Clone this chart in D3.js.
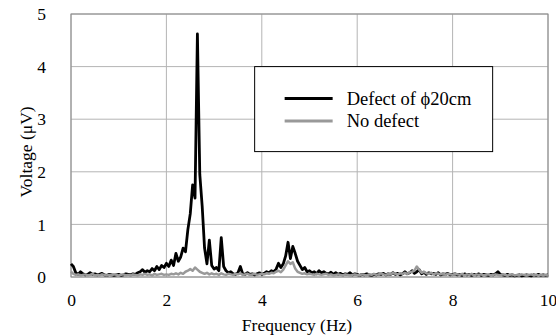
<!DOCTYPE html>
<html>
<head>
<meta charset="utf-8">
<script src="https://cdn.jsdelivr.net/npm/d3@7"></script>
<style>
  body { margin: 0; background: white; }
</style>
</head>
<body>
<div id="chart"></div>
<script>
// sampling step of the spectrum (Hz)
var df = 0.05;

// Defect of phi20cm, one row per Hz (0.00 .. 0.95, 1.00 .. 1.95, ...)
var defect = [
  0.25,0.20,0.08,0.05,0.10,0.06,0.04,0.05,0.08,0.05,0.06,0.04,0.05,0.07,0.04,0.03,0.05,0.04,0.03,0.04,
  0.05,0.03,0.04,0.06,0.05,0.04,0.06,0.05,0.08,0.10,0.14,0.09,0.12,0.10,0.16,0.12,0.20,0.14,0.22,0.18,
  0.26,0.20,0.32,0.22,0.45,0.30,0.38,0.55,0.48,0.90,1.20,1.75,1.50,4.62,1.95,1.35,0.55,0.25,0.70,0.22,
  0.15,0.18,0.12,0.75,0.20,0.12,0.08,0.10,0.06,0.05,0.08,0.20,0.06,0.05,0.08,0.05,0.06,0.04,0.06,0.08,
  0.05,0.07,0.10,0.08,0.12,0.10,0.15,0.26,0.18,0.25,0.40,0.66,0.35,0.58,0.45,0.30,0.22,0.14,0.18,0.10,
  0.12,0.08,0.10,0.06,0.12,0.08,0.10,0.07,0.06,0.09,0.05,0.08,0.05,0.07,0.04,0.06,0.05,0.08,0.04,0.06,
  0.05,0.03,0.05,0.04,0.06,0.04,0.03,0.05,0.04,0.06,0.05,0.07,0.04,0.06,0.05,0.08,0.05,0.07,0.04,0.06,
  0.10,0.06,0.08,0.12,0.07,0.10,0.14,0.06,0.09,0.05,0.08,0.06,0.07,0.05,0.08,0.04,0.06,0.05,0.07,0.04,
  0.05,0.06,0.04,0.05,0.03,0.06,0.04,0.05,0.03,0.05,0.04,0.06,0.03,0.05,0.04,0.03,0.05,0.04,0.06,0.10,
  0.05,0.04,0.03,0.05,0.03,0.04,0.02,0.03,0.04,0.02,0.03,0.04,0.03,0.02,0.04,0.03,0.05,0.03,0.04,0.03,
  0.04
];

// No defect
var noDefect = [
  0.10,0.06,0.04,0.05,0.03,0.04,0.05,0.03,0.04,0.06,0.03,0.04,0.03,0.05,0.04,0.03,0.04,0.03,0.05,0.04,
  0.03,0.04,0.05,0.03,0.04,0.03,0.05,0.04,0.03,0.05,0.04,0.06,0.04,0.05,0.03,0.06,0.04,0.05,0.06,0.04,
  0.05,0.04,0.06,0.05,0.07,0.05,0.08,0.06,0.10,0.12,0.15,0.12,0.18,0.14,0.10,0.08,0.06,0.08,0.05,0.07,
  0.05,0.06,0.04,0.07,0.05,0.04,0.06,0.05,0.04,0.06,0.05,0.07,0.04,0.05,0.06,0.04,0.05,0.06,0.04,0.05,
  0.06,0.05,0.07,0.06,0.08,0.07,0.10,0.12,0.09,0.14,0.22,0.30,0.25,0.28,0.16,0.10,0.08,0.06,0.07,0.05,
  0.06,0.05,0.04,0.06,0.05,0.04,0.05,0.06,0.04,0.05,0.03,0.04,0.05,0.04,0.03,0.05,0.04,0.03,0.04,0.05,
  0.04,0.03,0.05,0.04,0.03,0.05,0.04,0.06,0.04,0.05,0.07,0.05,0.04,0.06,0.05,0.08,0.06,0.05,0.07,0.06,
  0.08,0.06,0.09,0.10,0.12,0.20,0.14,0.08,0.10,0.07,0.06,0.08,0.05,0.07,0.06,0.05,0.07,0.04,0.06,0.05,
  0.04,0.06,0.05,0.04,0.06,0.03,0.05,0.04,0.06,0.03,0.05,0.04,0.05,0.03,0.04,0.05,0.03,0.04,0.05,0.04,
  0.03,0.05,0.04,0.03,0.04,0.05,0.03,0.04,0.03,0.05,0.04,0.03,0.04,0.05,0.03,0.04,0.03,0.04,0.03,0.04,
  0.03
];

var xTicks = [0, 2, 4, 6, 8, 10];
var yTicks = [0, 1, 2, 3, 4, 5];
var seriesNames = ["Defect of \u03d520cm", "No defect"];
var seriesColours = ["#000000", "#999999"];

var serif = "'Liberation Serif', 'Times New Roman', serif";

var width = 556, height = 335;
var margin = { top: 14, right: 8, bottom: 58, left: 71 };

var svg = d3.select("#chart")
    .append("svg")
    .attr("width", width)
    .attr("height", height)
    .style("font-family", serif);

var x = d3.scaleLinear()
    .domain([0, 10])
    .range([margin.left, width - margin.right]);

var y = d3.scaleLinear()
    .domain([0, 5])
    .range([height - margin.bottom, margin.top]);

// grid
svg.append("g")
    .selectAll("line.vgrid")
    .data(xTicks)
    .enter()
    .append("line")
    .attr("x1", function(d) { return x(d); })
    .attr("x2", function(d) { return x(d); })
    .attr("y1", y(0))
    .attr("y2", y(5))
    .attr("stroke", "#b4b4b4")
    .attr("stroke-width", 1);

svg.append("g")
    .selectAll("line.hgrid")
    .data(yTicks)
    .enter()
    .append("line")
    .attr("x1", x(0))
    .attr("x2", x(10))
    .attr("y1", function(d) { return y(d); })
    .attr("y2", function(d) { return y(d); })
    .attr("stroke", "#b4b4b4")
    .attr("stroke-width", 1);

svg.append("rect")
    .attr("x", x(0))
    .attr("y", y(5))
    .attr("width", x(10) - x(0))
    .attr("height", y(0) - y(5))
    .attr("fill", "none")
    .attr("stroke", "#8a8a8a")
    .attr("stroke-width", 1);

// spectra
var line = d3.line()
    .x(function(d, i) { return x(i * df); })
    .y(function(d) { return y(d); });

svg.append("path")
    .datum(defect)
    .attr("d", line)
    .attr("fill", "none")
    .attr("stroke", seriesColours[0])
    .attr("stroke-width", 2.8)
    .attr("stroke-linejoin", "round");

svg.append("path")
    .datum(noDefect)
    .attr("d", line)
    .attr("fill", "none")
    .attr("stroke", seriesColours[1])
    .attr("stroke-width", 2.5)
    .attr("stroke-linejoin", "round");

// axes (labels only, no tick marks)
var xAxis = d3.axisBottom(x).tickValues(xTicks).tickFormat(d3.format("d")).tickSize(0).tickPadding(17);
var yAxis = d3.axisLeft(y).tickValues(yTicks).tickFormat(d3.format("d")).tickSize(0).tickPadding(25);

svg.append("g")
    .attr("class", "x_axis")
    .attr("transform", "translate(0," + y(0) + ")")
    .call(xAxis)
    .call(function(g) { g.select(".domain").remove(); })
    .selectAll(".tick text")
    .style("font-family", serif)
    .style("font-size", "17.5px")
    .attr("fill", "#000");

svg.append("g")
    .attr("class", "y_axis")
    .attr("transform", "translate(" + x(0) + ",0)")
    .call(yAxis)
    .call(function(g) { g.select(".domain").remove(); })
    .selectAll(".tick text")
    .style("font-family", serif)
    .style("font-size", "17.5px")
    .attr("fill", "#000");

svg.append("text")
    .attr("x", 297)
    .attr("y", 331)
    .attr("text-anchor", "middle")
    .style("font-size", "17.5px")
    .text("Frequency (Hz)");

svg.append("text")
    .attr("transform", "translate(32,152) rotate(-90)")
    .attr("text-anchor", "middle")
    .style("font-size", "17.5px")
    .text("Voltage (\u03bcV)");

// legend
var legend = svg.append("g")
    .attr("transform", "translate(" + x(3.85) + "," + y(4.0) + ")");

legend.append("rect")
    .attr("x", 0)
    .attr("y", 0)
    .attr("width", 238)
    .attr("height", 85)
    .attr("fill", "white")
    .attr("stroke", "#000")
    .attr("stroke-width", 1);

var items = legend.selectAll(".item")
    .data(seriesNames)
    .enter()
    .append("g")
    .attr("class", "item")
    .attr("transform", function(d, i) { return "translate(0," + (32 + i * 22.5) + ")"; });

items.append("line")
    .attr("x1", 30)
    .attr("x2", 78)
    .attr("y1", 0)
    .attr("y2", 0)
    .attr("stroke", function(d, i) { return seriesColours[i]; })
    .attr("stroke-width", 3);

items.append("text")
    .attr("x", 92)
    .attr("y", 6)
    .style("font-size", "18.5px")
    .text(function(d) { return d; });
</script>
</body>
</html>
